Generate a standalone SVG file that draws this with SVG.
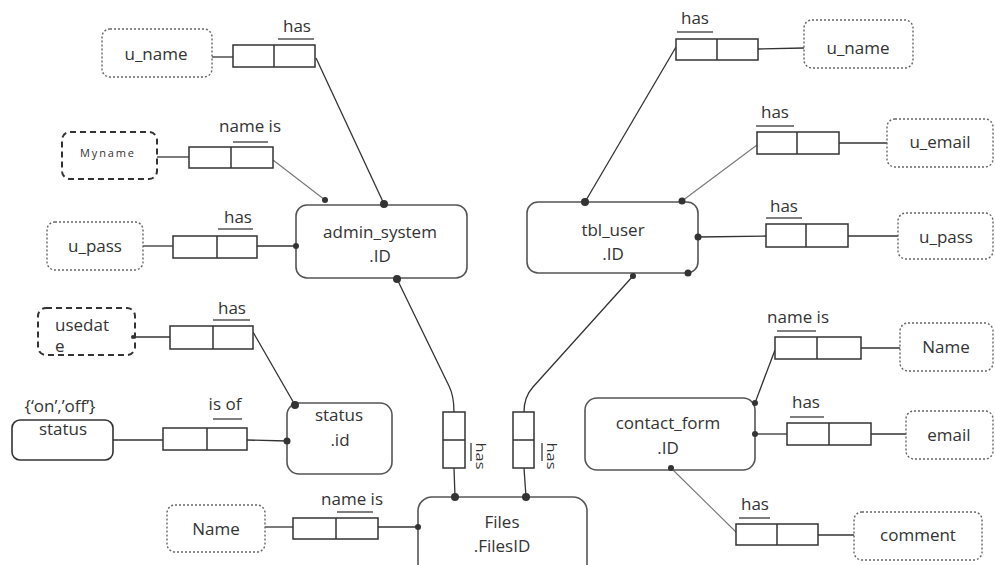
<svg xmlns="http://www.w3.org/2000/svg" width="995" height="565" viewBox="0 0 995 565">
<style>
text{font-family:"Open Sans","Liberation Sans",sans-serif;font-size:17px;fill:#333;text-anchor:middle}
.ent{fill:#fff;stroke:#555;stroke-width:1.6}
.attr{fill:#fff;stroke:#666;stroke-width:1.4;stroke-dasharray:2 2}
.dash{fill:#fff;stroke:#333;stroke-width:2;stroke-dasharray:6 4}
.rel{fill:#fff;stroke:#333;stroke-width:1.5}
.div{stroke:#333;stroke-width:1.5}
.ul{stroke:#555;stroke-width:1.5}
.ln{fill:none;stroke:#333;stroke-width:1.3}
.lt{fill:none;stroke:#777;stroke-width:1.1}
.dot{fill:#333}
.sm{font-size:11px}
.vt{font-size:13px}
</style>
<rect width="995" height="565" fill="#fff"/>

<g id="connectors">
<line class="ln" x1="212" y1="57" x2="233" y2="57"/>
<line class="ln" x1="316" y1="58" x2="384" y2="204"/>
<line class="ln" x1="157" y1="157" x2="189" y2="157"/>
<line class="lt" x1="273" y1="160" x2="325" y2="200"/>
<line class="ln" x1="143" y1="246" x2="173" y2="246"/>
<line class="ln" x1="257" y1="246" x2="296" y2="246"/>
<line class="ln" x1="133" y1="337" x2="170" y2="337"/>
<line class="ln" x1="253" y1="332" x2="295" y2="405"/>
<line class="ln" x1="113" y1="440" x2="163" y2="440"/>
<line class="ln" x1="247" y1="440" x2="287" y2="441"/>
<path class="ln" d="M397,279 L449,386 Q454,396 454,412"/>
<line class="ln" x1="454" y1="468" x2="455" y2="497"/>
<path class="ln" d="M633,276 L533,387 Q524,397 524,412"/>
<line class="ln" x1="524" y1="468" x2="526" y2="497"/>
<line class="ln" x1="265" y1="527" x2="293" y2="527"/>
<line class="ln" x1="378" y1="527" x2="418" y2="527"/>
<line class="ln" x1="585" y1="202" x2="676" y2="47"/>
<line class="ln" x1="758" y1="49" x2="804" y2="48"/>
<line class="lt" x1="682" y1="201" x2="757" y2="145"/>
<line class="ln" x1="839" y1="143" x2="887" y2="143"/>
<line class="ln" x1="698" y1="237" x2="766" y2="236"/>
<line class="ln" x1="848" y1="236" x2="898" y2="236"/>
<line class="ln" x1="755" y1="403" x2="775" y2="350"/>
<line class="ln" x1="861" y1="348" x2="900" y2="348"/>
<line class="ln" x1="755" y1="434" x2="787" y2="434"/>
<line class="ln" x1="871" y1="434" x2="906" y2="434"/>
<line class="lt" x1="671" y1="468" x2="736" y2="532"/>
<line class="ln" x1="818" y1="535" x2="854" y2="535"/>
</g>

<g id="admin_system">
<rect class="ent" x="296" y="205" width="171" height="73" rx="11"/>
<text x="380" y="238">admin_system</text>
<text x="380" y="262">.ID</text>
</g>
<g id="tbl_user">
<rect class="ent" x="527" y="202" width="171" height="71" rx="11"/>
<text x="613" y="236">tbl_user</text>
<text x="613" y="260">.ID</text>
</g>
<g id="status_id">
<rect class="ent" x="287" y="403" width="105" height="71" rx="12"/>
<text x="339" y="421">status</text>
<text x="340" y="446">.id</text>
</g>
<g id="contact_form">
<rect class="ent" x="585" y="398" width="170" height="72" rx="12"/>
<text x="668" y="429">contact_form</text>
<text x="668" y="454">.ID</text>
</g>
<g id="files">
<rect class="ent" x="418" y="497" width="169" height="92" rx="14"/>
<text x="502" y="528">Files</text>
<text x="502" y="552">.FilesID</text>
</g>

<g id="attr_u_name_l"><rect class="attr" x="102" y="29" width="110" height="48" rx="8"/><text x="156" y="60">u_name</text></g>
<g id="attr_myname"><rect class="dash" x="62" y="132" width="95" height="47" rx="8"/><text class="sm" x="107" y="157" textLength="54" lengthAdjust="spacing">Myname</text></g>
<g id="attr_u_pass_l"><rect class="attr" x="47" y="222" width="96" height="48" rx="8"/><text x="95" y="252">u_pass</text></g>
<g id="attr_usedate"><rect class="dash" x="38" y="308" width="97" height="47" rx="8"/><text x="55" y="331" style="text-anchor:start">usedat</text><text x="55" y="352" style="text-anchor:start">e</text></g>
<g id="attr_status"><text x="60" y="412">{‘on’,’off’}</text><rect fill="#fff" stroke="#333" stroke-width="1.6" x="12" y="420" width="101" height="40" rx="8"/><text x="63" y="435">status</text></g>
<g id="attr_name_files"><rect class="attr" x="167" y="505" width="98" height="47" rx="8"/><text x="216" y="535">Name</text></g>
<g id="attr_u_name_r"><rect class="attr" x="804" y="20" width="109" height="48" rx="8"/><text x="858" y="54">u_name</text></g>
<g id="attr_u_email"><rect class="attr" x="887" y="119" width="106" height="48" rx="8"/><text x="940" y="148">u_email</text></g>
<g id="attr_u_pass_r"><rect class="attr" x="898" y="213" width="95" height="46" rx="8"/><text x="946" y="243">u_pass</text></g>
<g id="attr_name_r"><rect class="attr" x="900" y="323" width="93" height="48" rx="8"/><text x="946" y="353">Name</text></g>
<g id="attr_email"><rect class="attr" x="906" y="411" width="87" height="48" rx="8"/><text x="949" y="441">email</text></g>
<g id="attr_comment"><rect class="attr" x="854" y="512" width="128" height="48" rx="8"/><text x="918" y="541">comment</text></g>

<g id="rel1"><rect class="rel" x="233" y="45" width="82" height="22"/><line class="div" x1="274" y1="45" x2="274" y2="67"/><text x="297" y="32">has</text><line class="ul" x1="278" y1="39" x2="314" y2="39"/></g>
<g id="rel2"><rect class="rel" x="189" y="147" width="84" height="21"/><line class="div" x1="231" y1="147" x2="231" y2="168"/><text x="250" y="132">name is</text><line class="ul" x1="233" y1="142" x2="268" y2="142"/></g>
<g id="rel3"><rect class="rel" x="173" y="236" width="84" height="22"/><line class="div" x1="217" y1="236" x2="217" y2="258"/><text x="238" y="223">has</text><line class="ul" x1="218" y1="229" x2="253" y2="229"/></g>
<g id="rel4"><rect class="rel" x="170" y="326" width="83" height="23"/><line class="div" x1="213" y1="326" x2="213" y2="349"/><text x="232" y="314">has</text><line class="ul" x1="213" y1="320" x2="250" y2="320"/></g>
<g id="rel5"><rect class="rel" x="163" y="428" width="84" height="22"/><line class="div" x1="207" y1="428" x2="207" y2="450"/><text x="225" y="410">is of</text><line class="ul" x1="213" y1="419" x2="242" y2="419"/></g>
<g id="rel6"><rect class="rel" x="293" y="518" width="85" height="21"/><line class="div" x1="336" y1="518" x2="336" y2="539"/><text x="352" y="505">name is</text><line class="ul" x1="337" y1="512" x2="373" y2="512"/></g>
<g id="rel7"><rect class="rel" x="676" y="39" width="82" height="21"/><line class="div" x1="717" y1="39" x2="717" y2="60"/><text x="695" y="24">has</text><line class="ul" x1="677" y1="32" x2="713" y2="32"/></g>
<g id="rel8"><rect class="rel" x="757" y="132" width="82" height="22"/><line class="div" x1="797" y1="132" x2="797" y2="154"/><text x="775" y="118">has</text><line class="ul" x1="756" y1="126" x2="794" y2="126"/></g>
<g id="rel9"><rect class="rel" x="766" y="224" width="82" height="23"/><line class="div" x1="806" y1="224" x2="806" y2="247"/><text x="784" y="212">has</text><line class="ul" x1="766" y1="218" x2="802" y2="218"/></g>
<g id="rel10"><rect class="rel" x="775" y="337" width="86" height="22"/><line class="div" x1="817" y1="337" x2="817" y2="359"/><text x="798" y="323">name is</text><line class="ul" x1="777" y1="331" x2="816" y2="331"/></g>
<g id="rel11"><rect class="rel" x="787" y="423" width="84" height="22"/><line class="div" x1="829" y1="423" x2="829" y2="445"/><text x="806" y="408">has</text><line class="ul" x1="790" y1="417" x2="824" y2="417"/></g>
<g id="rel12"><rect class="rel" x="736" y="524" width="82" height="21"/><line class="div" x1="777" y1="524" x2="777" y2="545"/><text x="755" y="510">has</text><line class="ul" x1="739" y1="518" x2="770" y2="518"/></g>
<g id="rel13"><rect class="rel" x="443" y="412" width="22" height="56"/><line class="div" x1="443" y1="440" x2="465" y2="440"/><text class="vt" transform="translate(476,456) rotate(90)" textLength="27" lengthAdjust="spacingAndGlyphs">has</text><line class="ul" x1="471" y1="443" x2="471" y2="461"/></g>
<g id="rel14"><rect class="rel" x="513" y="412" width="21" height="56"/><line class="div" x1="513" y1="440" x2="534" y2="440"/><text class="vt" transform="translate(547,456) rotate(90)" textLength="27" lengthAdjust="spacingAndGlyphs">has</text><line class="ul" x1="542" y1="443" x2="542" y2="461"/></g>

<g id="dots">
<circle class="dot" cx="325" cy="200" r="3"/>
<circle class="dot" cx="384" cy="204" r="4"/>
<circle class="dot" cx="296" cy="246" r="3"/>
<circle class="dot" cx="397" cy="279" r="4"/>
<circle class="dot" cx="585" cy="202" r="4"/>
<circle class="dot" cx="682" cy="201" r="3.5"/>
<circle class="dot" cx="698" cy="237" r="3.5"/>
<circle class="dot" cx="633" cy="276" r="3"/>
<circle class="dot" cx="688" cy="273" r="3.5"/>
<circle class="dot" cx="295" cy="405" r="4"/>
<circle class="dot" cx="287" cy="441" r="3.5"/>
<circle class="dot" cx="455" cy="497" r="4"/>
<circle class="dot" cx="526" cy="497" r="4"/>
<circle class="dot" cx="418" cy="527" r="3"/>
<circle class="dot" cx="755" cy="403" r="3"/>
<circle class="dot" cx="755" cy="434" r="3"/>
<circle class="dot" cx="671" cy="468" r="3"/>
<circle class="dot" cx="133" cy="337" r="2"/>
</g>
</svg>
